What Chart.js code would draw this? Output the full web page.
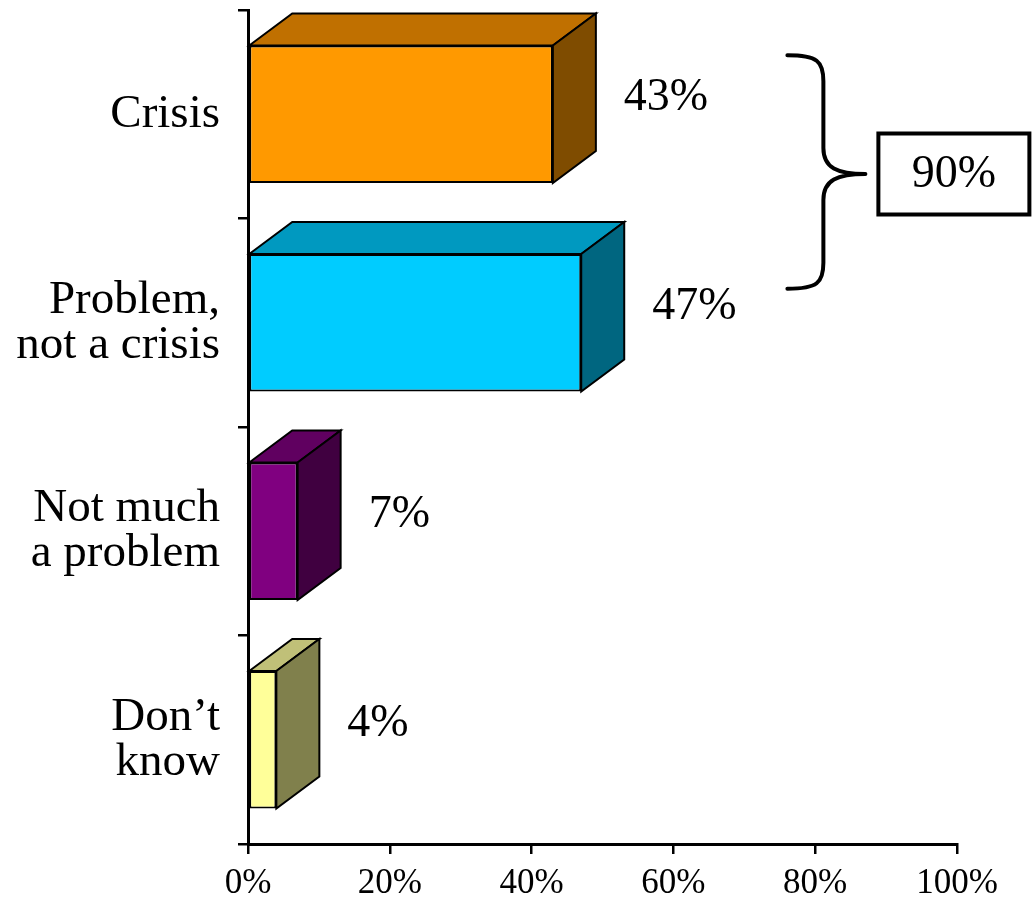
<!DOCTYPE html>
<html>
<head>
<meta charset="utf-8">
<script src="https://cdn.jsdelivr.net/npm/chart.js@4/dist/chart.umd.min.js"></script>
<style>
  body { margin: 0; background: #fff; }
  #wrap { width: 1032px; height: 902px; position: relative; }
</style>
</head>
<body>
<div id="wrap"><canvas id="crisisChart"></canvas></div>
<script>
const categories = [["Crisis"], ["Problem,", "not a crisis"], ["Not much", "a problem"], ["Don\u2019t", "know"]];
const shares = [43, 47, 7, 4];
const xTicks = [0, 20, 40, 60, 80, 100];
const bracketTotal = "90%";

// colours: front face, top face, right side
const frontColors = ["#FF9900", "#00CCFF", "#800080", "#FFFF99"];
const topColors = ["#C07000", "#0099C0", "#600060", "#C0C078"];
const sideColors = ["#7F4C00", "#006680", "#400040", "#80804C"];

const serif = "'Liberation Serif', 'Times New Roman', serif";
const depthX = 43, depthY = -32;

const bars3d = {
    id: 'bars3d',
    afterDatasetsDraw(chart) {
        const c = chart.ctx;
        const meta = chart.getDatasetMeta(0);
        c.save();
        c.lineWidth = 2;
        c.strokeStyle = '#000';
        c.lineJoin = 'miter';
        meta.data.forEach((bar, i) => {
            const p = bar.getProps(['x', 'y', 'base', 'height'], true);
            const top = p.y - p.height / 2, bot = p.y + p.height / 2;
            const l = p.base, r = p.x;
            // top face
            c.beginPath();
            c.moveTo(l, top);
            c.lineTo(l + depthX, top + depthY);
            c.lineTo(r + depthX, top + depthY);
            c.lineTo(r, top);
            c.closePath();
            c.fillStyle = topColors[i];
            c.fill();
            c.stroke();
            // side face
            c.beginPath();
            c.moveTo(r, top);
            c.lineTo(r + depthX, top + depthY);
            c.lineTo(r + depthX, bot + depthY);
            c.lineTo(r, bot);
            c.closePath();
            c.fillStyle = sideColors[i];
            c.fill();
            c.stroke();
            // value label
            c.fillStyle = '#000';
            c.font = '46px ' + serif;
            c.textAlign = 'left';
            c.textBaseline = 'middle';
            c.fillText(shares[i] + '%', r + depthX + 28, p.y - 16);
        });
        c.restore();
    }
};

const bracket = {
    id: 'bracket',
    afterDraw(chart) {
        const c = chart.ctx;
        const xs = chart.scales.x, ys = chart.scales.y;
        const yT = ys.getPixelForValue(0) - 59;
        const yB = ys.getPixelForValue(1) - 34;
        const m = (yT + yB) / 2 + 2;
        const x0 = xs.getPixelForValue(76.5) - 3;
        const x1 = x0 + 36, x2 = x0 + 78;
        c.save();
        c.strokeStyle = '#000';
        c.lineWidth = 4;
        c.lineCap = 'round';
        c.beginPath();
        c.moveTo(x0, yT);
        c.bezierCurveTo(x0 + 30, yT, x1, yT + 6, x1, yT + 26);
        c.lineTo(x1, m - 26);
        c.bezierCurveTo(x1, m - 6, x1 + 14, m, x2, m);
        c.moveTo(x2, m);
        c.bezierCurveTo(x1 + 14, m, x1, m + 6, x1, m + 26);
        c.lineTo(x1, yB - 26);
        c.bezierCurveTo(x1, yB - 6, x0 + 30, yB, x0, yB);
        c.stroke();
        // boxed total
        const bx = x2 + 13, bw = 151, bh = 81;
        c.lineCap = 'butt';
        c.strokeRect(bx, m - bh / 2, bw, bh);
        c.fillStyle = '#000';
        c.font = '46px ' + serif;
        c.textAlign = 'center';
        c.textBaseline = 'middle';
        c.fillText(bracketTotal, bx + bw / 2, m + 1);
        c.restore();
    }
};

new Chart(document.getElementById('crisisChart'), {
    type: 'bar',
    data: {
        labels: categories,
        datasets: [{
            data: shares,
            backgroundColor: frontColors,
            borderColor: '#000',
            borderWidth: 2,
            borderSkipped: false,
            barPercentage: 0.66,
            categoryPercentage: 1
        }]
    },
    plugins: [bars3d, bracket],
    options: {
        indexAxis: 'y',
        responsive: true,
        maintainAspectRatio: false,
        animation: false,
        layout: { padding: { top: 10, right: 75, left: 0, bottom: 0 } },
        plugins: {
            legend: { display: false },
            tooltip: { enabled: false }
        },
        scales: {
            x: {
                min: 0, max: 100,
                afterBuildTicks: axis => { axis.ticks = xTicks.map(v => ({ value: v })); },
                afterFit: axis => { axis.height = 58; axis.paddingLeft = 0; axis.paddingRight = 0; },
                ticks: {
                    callback: v => v + '%',
                    color: '#000',
                    padding: 9,
                    maxRotation: 0,
                    font: { family: serif, size: 35 }
                },
                grid: { drawOnChartArea: false, drawTicks: true, tickLength: 10, color: '#000', lineWidth: 2.5 },
                border: { display: true, color: '#000', width: 3 }
            },
            y: {
                afterFit: axis => { axis.width = 248; axis.paddingTop = 0; axis.paddingBottom = 0; },
                ticks: {
                    color: '#000',
                    padding: 18,
                    font: { family: serif, size: 47, lineHeight: 0.96 }
                },
                grid: { offset: true, drawOnChartArea: false, drawTicks: true, tickLength: 10, color: '#000', lineWidth: 2.5 },
                border: { display: true, color: '#000', width: 3 }
            }
        }
    }
});
</script>
</body>
</html>
